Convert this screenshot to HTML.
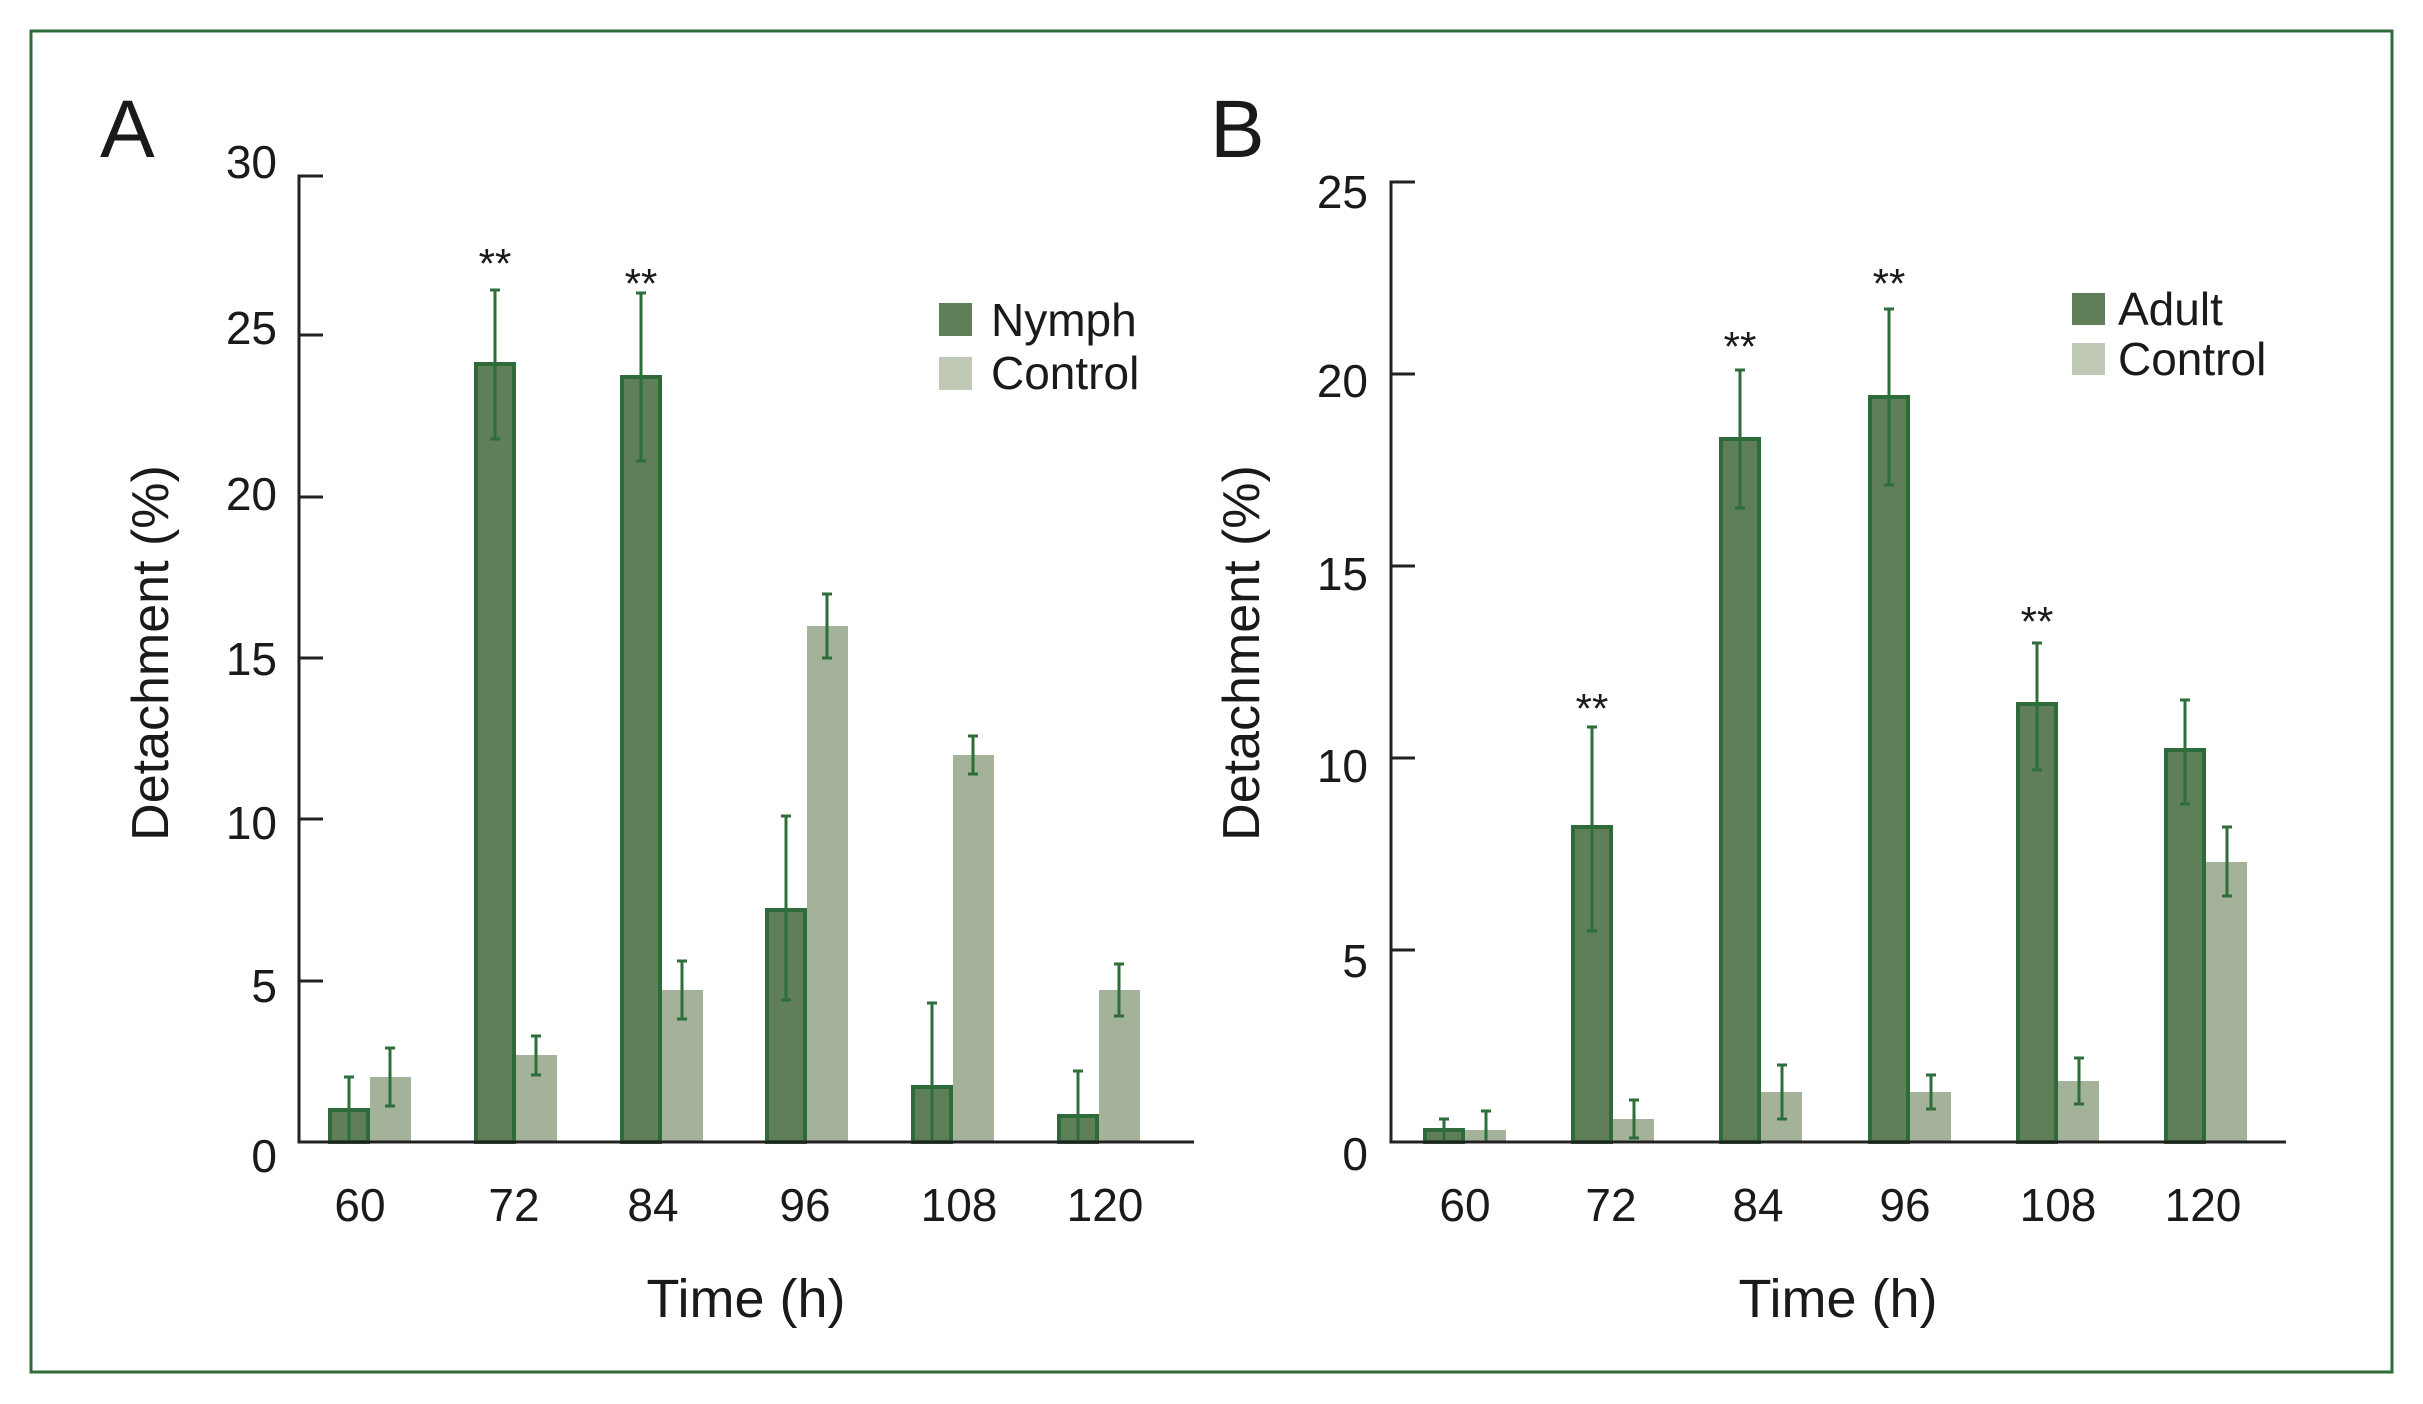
<!DOCTYPE html>
<html><head><meta charset="utf-8"><style>
html,body{margin:0;padding:0;background:#fff}
svg{display:block}
text{font-family:"Liberation Sans",Arial,sans-serif;fill:#1a1a1a}
</style></head><body>
<svg width="2423" height="1404" viewBox="0 0 2423 1404" xmlns="http://www.w3.org/2000/svg">
<rect x="31" y="31" width="2361" height="1341" fill="#fff" stroke="#2e6b3a" stroke-width="3"/>
<defs>
<style>
.n{fill:#5f7f58;stroke:#2f6a3a;stroke-width:4}
.c{fill:#a3b298}
.e{stroke:#2e6e3a;stroke-width:3;fill:none}
.ax{stroke:#222;stroke-width:3;fill:none}
.tl{font-size:46px;text-anchor:end}
.xl{font-size:46px;text-anchor:middle}
.st{font-size:42px;text-anchor:middle}
</style>
</defs>

<!-- Panel A -->
<text x="100" y="157" font-size="82">A</text>
<g class="ax"><path d="M323 176 H299 V1142 H1194"/>
<path d="M299 335h24M299 497h24M299 658h24M299 819h24M299 981h24"/></g>
<g class="tl">
<text x="277" y="178">30</text><text x="277" y="344">25</text><text x="277" y="510">20</text>
<text x="277" y="675">15</text><text x="277" y="839">10</text><text x="277" y="1002">5</text><text x="277" y="1172">0</text>
</g>
<text transform="translate(168,653) rotate(-90)" font-size="52" text-anchor="middle">Detachment (%)</text>
<!-- nymph bars -->
<rect class="n" x="330" y="1110" width="38" height="32"/>
<rect class="n" x="476" y="364" width="38" height="778"/>
<rect class="n" x="622" y="377" width="38" height="765"/>
<rect class="n" x="767" y="910" width="38" height="232"/>
<rect class="n" x="913" y="1087" width="38" height="55"/>
<rect class="n" x="1059" y="1116" width="38" height="26"/>
<!-- control bars -->
<rect class="c" x="370" y="1077" width="41" height="65"/>
<rect class="c" x="516" y="1055" width="41" height="87"/>
<rect class="c" x="662" y="990" width="41" height="152"/>
<rect class="c" x="807" y="626" width="41" height="516"/>
<rect class="c" x="953" y="755" width="41" height="387"/>
<rect class="c" x="1099" y="990" width="41" height="152"/>
<g class="e">
<path d="M349 1077V1142M344 1077h10"/>
<path d="M495 290V439M490 290h10M490 439h10"/>
<path d="M641 293V461M636 293h10M636 461h10"/>
<path d="M786 816V1000M781 816h10M781 1000h10"/>
<path d="M932 1003V1142M927 1003h10"/>
<path d="M1078 1071V1142M1073 1071h10"/>
<path d="M390 1048V1106M385 1048h10M385 1106h10"/>
<path d="M536 1036V1075M531 1036h10M531 1075h10"/>
<path d="M682 961V1019M677 961h10M677 1019h10"/>
<path d="M827 594V658M822 594h10M822 658h10"/>
<path d="M973 736V774M968 736h10M968 774h10"/>
<path d="M1119 964V1016M1114 964h10M1114 1016h10"/>
</g>
<path class="ax" d="M299 1142H1194"/>
<text class="st" x="495" y="278">**</text>
<text class="st" x="641" y="298">**</text>
<g class="xl">
<text x="360" y="1221">60</text><text x="514" y="1221">72</text><text x="653" y="1221">84</text>
<text x="805" y="1221">96</text><text x="959" y="1221">108</text><text x="1105" y="1221">120</text>
</g>
<text x="746" y="1317" font-size="54" text-anchor="middle">Time (h)</text>
<rect x="939" y="303" width="33" height="33" fill="#5f7f58"/>
<rect x="939" y="357" width="33" height="33" fill="#c0c8b6"/>
<text x="991" y="336" font-size="46">Nymph</text>
<text x="991" y="389" font-size="46">Control</text>

<!-- Panel B -->
<text x="1210" y="157" font-size="82">B</text>
<g class="ax"><path d="M1415 182 H1391 V1142 H2286"/>
<path d="M1391 374h24M1391 566h24M1391 758h24M1391 950h24"/></g>
<g class="tl">
<text x="1368" y="208">25</text><text x="1368" y="397">20</text><text x="1368" y="590">15</text>
<text x="1368" y="782">10</text><text x="1368" y="977">5</text><text x="1368" y="1170">0</text>
</g>
<text transform="translate(1259,653) rotate(-90)" font-size="52" text-anchor="middle">Detachment (%)</text>
<rect class="n" x="1425" y="1130" width="38" height="12"/>
<rect class="n" x="1573" y="827" width="38" height="315"/>
<rect class="n" x="1721" y="439" width="38" height="703"/>
<rect class="n" x="1870" y="397" width="38" height="745"/>
<rect class="n" x="2018" y="704" width="38" height="438"/>
<rect class="n" x="2166" y="750" width="38" height="392"/>
<rect class="c" x="1465" y="1130" width="41" height="12"/>
<rect class="c" x="1613" y="1119" width="41" height="23"/>
<rect class="c" x="1761" y="1092" width="41" height="50"/>
<rect class="c" x="1910" y="1092" width="41" height="50"/>
<rect class="c" x="2058" y="1081" width="41" height="61"/>
<rect class="c" x="2206" y="862" width="41" height="280"/>
<g class="e">
<path d="M1444 1119V1142M1439 1119h10"/>
<path d="M1592 727V931M1587 727h10M1587 931h10"/>
<path d="M1740 370V508M1735 370h10M1735 508h10"/>
<path d="M1889 309V485M1884 309h10M1884 485h10"/>
<path d="M2037 643V770M2032 643h10M2032 770h10"/>
<path d="M2185 700V804M2180 700h10M2180 804h10"/>
<path d="M1486 1111V1142M1481 1111h10"/>
<path d="M1634 1100V1138M1629 1100h10M1629 1138h10"/>
<path d="M1782 1065V1119M1777 1065h10M1777 1119h10"/>
<path d="M1931 1075V1109M1926 1075h10M1926 1109h10"/>
<path d="M2079 1058V1104M2074 1058h10M2074 1104h10"/>
<path d="M2227 827V896M2222 827h10M2222 896h10"/>
</g>
<path class="ax" d="M1391 1142H2286"/>
<text class="st" x="1592" y="723">**</text>
<text class="st" x="1740" y="361">**</text>
<text class="st" x="1889" y="298">**</text>
<text class="st" x="2037" y="636">**</text>
<g class="xl">
<text x="1465" y="1221">60</text><text x="1611" y="1221">72</text><text x="1758" y="1221">84</text>
<text x="1905" y="1221">96</text><text x="2058" y="1221">108</text><text x="2203" y="1221">120</text>
</g>
<text x="1838" y="1317" font-size="54" text-anchor="middle">Time (h)</text>
<rect x="2072" y="293" width="33" height="32" fill="#5f7f58"/>
<rect x="2072" y="343" width="33" height="32" fill="#c0c8b6"/>
<text x="2118" y="325" font-size="46">Adult</text>
<text x="2118" y="375" font-size="46">Control</text>
</svg>
</body></html>
